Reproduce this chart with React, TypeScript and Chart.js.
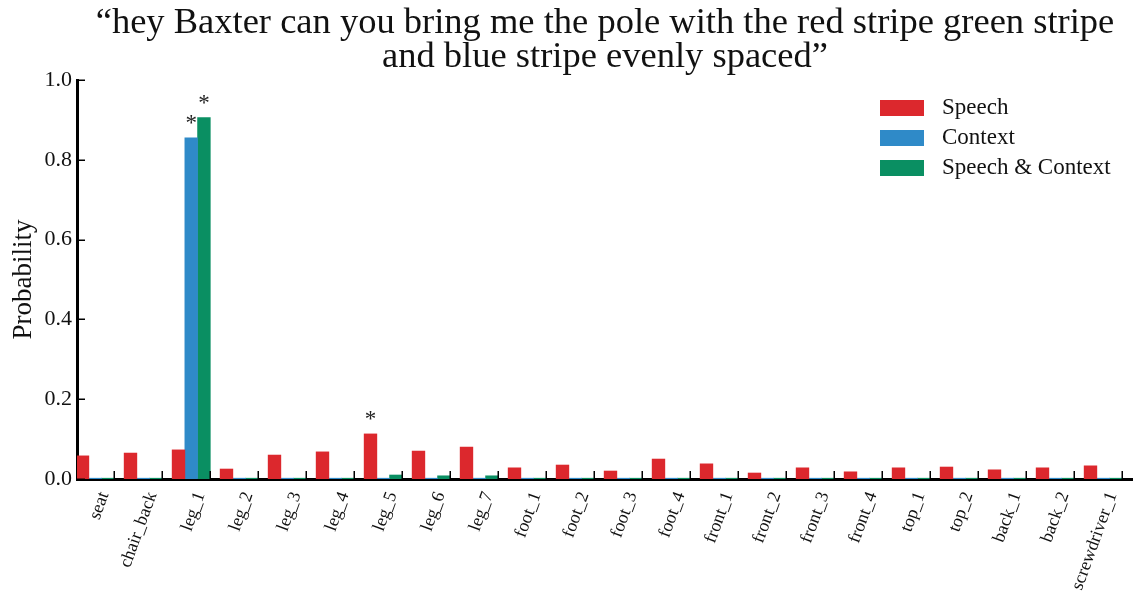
import React, { useEffect, useRef } from 'react';
import { Chart, registerables } from 'chart.js';

Chart.register(...registerables);

// ---------- data ----------
const categories = [
  'seat', 'chair_back', 'leg_1', 'leg_2', 'leg_3', 'leg_4', 'leg_5', 'leg_6', 'leg_7',
  'foot_1', 'foot_2', 'foot_3', 'foot_4', 'front_1', 'front_2', 'front_3', 'front_4',
  'top_1', 'top_2', 'back_1', 'back_2', 'screwdriver_1',
];
const speech = [
  0.058, 0.065, 0.073, 0.025, 0.060, 0.068, 0.113, 0.070, 0.080,
  0.028, 0.035, 0.020, 0.050, 0.038, 0.015, 0.028, 0.018,
  0.028, 0.030, 0.023, 0.028, 0.033,
];
const context = [
  0.002, 0.002, 0.855, 0.002, 0.002, 0.002, 0.002, 0.002, 0.002,
  0.002, 0.002, 0.002, 0.002, 0.002, 0.002, 0.002, 0.002,
  0.002, 0.002, 0.002, 0.002, 0.002,
];
const speechContext = [
  0.002, 0.002, 0.906, 0.002, 0.002, 0.002, 0.010, 0.008, 0.008,
  0.002, 0.002, 0.002, 0.002, 0.002, 0.002, 0.002, 0.002,
  0.002, 0.002, 0.002, 0.002, 0.002,
];
// significance markers (*) per series
const speechStars = categories.map((c) => c === 'leg_5');
const contextStars = categories.map((c) => c === 'leg_1');
const speechContextStars = categories.map((c) => c === 'leg_1');

const seriesLabels = ['Speech', 'Context', 'Speech & Context'];
const seriesColors = ['#DC282D', '#2F8AC8', '#0A8F62'];
const yTicks = [0.0, 0.2, 0.4, 0.6, 0.8, 1.0];
const titleLines = [
  '\u201Chey Baxter can you bring me the pole with the red stripe green stripe',
  'and blue stripe evenly spaced\u201D',
];

const BAR_WIDTH = 0.265; // in category units, like matplotlib's width
const X_MIN = -0.777;
const X_MAX = 21.223;
const FONT = '"Liberation Serif", "Times New Roman", serif';

const seriesValues = [speech, context, speechContext];
const seriesStars = [speechStars, contextStars, speechContextStars];

// ---------- plugins ----------
const inwardTicks = {
  id: 'inwardTicks',
  afterDatasetsDraw(chart: any) {
    const { ctx, chartArea, scales } = chart;
    const xs = scales.x;
    const ys = scales.y;
    ctx.save();
    ctx.strokeStyle = '#000';
    ctx.lineWidth = 1.5;
    ctx.beginPath();
    xs.ticks.forEach((t: any) => {
      const px = Math.round(xs.getPixelForValue(t.value)) + 0.25;
      ctx.moveTo(px, chartArea.bottom);
      ctx.lineTo(px, chartArea.bottom - 8);
    });
    ys.ticks.forEach((t: any) => {
      const py = Math.round(ys.getPixelForValue(t.value)) + 0.25;
      ctx.moveTo(chartArea.left, py);
      ctx.lineTo(chartArea.left + 8, py);
    });
    ctx.stroke();
    ctx.restore();
  },
};

const starsPlugin = {
  id: 'stars',
  afterDatasetsDraw(chart: any) {
    const { ctx } = chart;
    ctx.save();
    ctx.font = `23px ${FONT}`;
    ctx.fillStyle = '#222';
    ctx.textAlign = 'center';
    ctx.textBaseline = 'alphabetic';
    seriesStars.forEach((flags, k) => {
      const meta = chart.getDatasetMeta(k);
      flags.forEach((f, i) => {
        if (!f) return;
        const el = meta.data[i];
        ctx.fillText('*', el.x, el.y - 8);
      });
    });
    ctx.restore();
  },
};

const cornerLegend = {
  id: 'cornerLegend',
  afterDraw(chart: any) {
    const { ctx, chartArea } = chart;
    ctx.save();
    const x0 = chartArea.right - 253;
    chart.data.datasets.forEach((ds: any, k: number) => {
      const cy = chartArea.top + 28 + k * 30;
      ctx.fillStyle = ds.backgroundColor;
      ctx.fillRect(x0, cy - 8, 44, 16);
      ctx.fillStyle = '#111';
      ctx.font = `23px ${FONT}`;
      ctx.textAlign = 'left';
      ctx.textBaseline = 'middle';
      ctx.fillText(ds.label, x0 + 62, cy);
    });
    ctx.restore();
  },
};

export default function App() {
  const canvasRef = useRef<HTMLCanvasElement | null>(null);

  useEffect(() => {
    if (!canvasRef.current) return;
    const offsets = [2.5, 1.5, 0.5];
    const chart = new Chart(canvasRef.current, {
      type: 'bar',
      data: {
        datasets: seriesValues.map((vals, k) => ({
          label: seriesLabels[k],
          data: vals.map((v, i) => ({ x: i - offsets[k] * BAR_WIDTH, y: v })),
          backgroundColor: seriesColors[k],
          borderWidth: 0,
          grouped: false,
          categoryPercentage: 1,
          barPercentage: 1,
        })),
      },
      options: {
        responsive: false,
        animation: false,
        layout: { padding: 0 },
        plugins: {
          legend: { display: false },
          tooltip: { enabled: false },
          title: {
            display: true,
            text: titleLines,
            fullSize: false,
            color: '#111',
            font: { family: FONT, size: 36.5, weight: 'normal', lineHeight: '34px' },
            padding: { top: 6, bottom: 6 },
          },
        },
        scales: {
          x: {
            type: 'linear',
            offset: false,
            min: X_MIN,
            max: X_MAX,
            grid: { display: false, drawTicks: false },
            border: { display: true, color: '#000', width: 3 },
            afterBuildTicks: (axis: any) => {
              axis.ticks = categories.map((_, i) => ({ value: i }));
            },
            afterFit: (scale: any) => {
              scale.height = 119;
              scale.paddingLeft = 0;
              scale.paddingRight = 0;
            },
            ticks: {
              autoSkip: false,
              minRotation: 70,
              maxRotation: 70,
              padding: 10,
              labelOffset: -10,
              color: '#111',
              font: { family: FONT, size: 18 },
              callback: (_v: any, i: number) => categories[i],
            },
          },
          y: {
            min: 0,
            max: 1,
            grid: { display: false, drawTicks: false },
            border: { display: true, color: '#000', width: 3 },
            afterBuildTicks: (axis: any) => {
              axis.ticks = yTicks.map((v) => ({ value: v }));
            },
            afterFit: (scale: any) => {
              scale.width = 77;
            },
            ticks: {
              padding: 5,
              color: '#111',
              font: { family: FONT, size: 22 },
              callback: (v: any) => Number(v).toFixed(1),
            },
            title: {
              display: true,
              text: 'Probability',
              color: '#111',
              font: { family: FONT, size: 27 },
              padding: { top: 8, bottom: 0 },
            },
          },
        },
      },
      plugins: [inwardTicks, starsPlugin, cornerLegend],
    } as any);
    return () => chart.destroy();
  }, []);

  return (
    <div style={{ position: 'absolute', left: 0, top: 0, width: 1133, height: 598, background: '#fff' }}>
      <canvas ref={canvasRef} width={1133} height={598} style={{ display: 'block' }} />
    </div>
  );
}
